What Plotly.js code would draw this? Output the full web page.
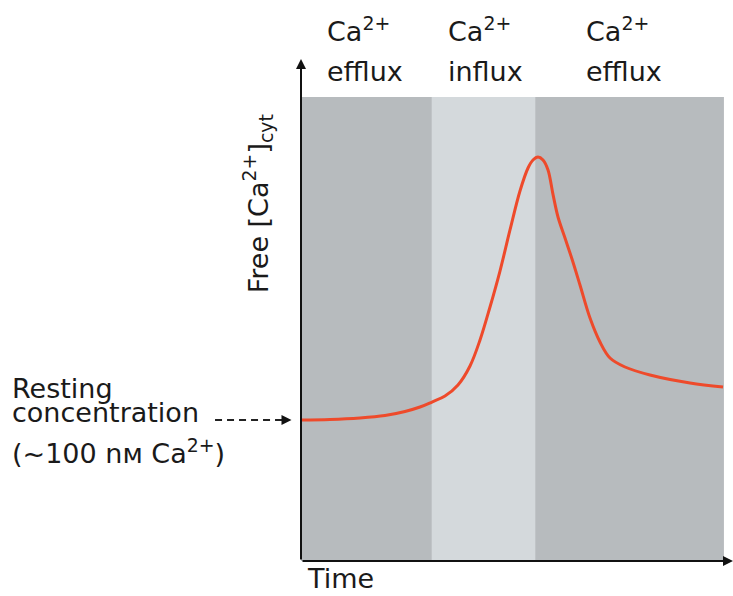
<!DOCTYPE html>
<html>
<head>
<meta charset="utf-8">
<script src="https://cdn.plot.ly/plotly-3.0.1.min.js"></script>
<style>html,body{margin:0;padding:0;background:#fff;}#chart{width:733px;height:596px;}</style>
</head>
<body>
<div id="chart"></div>
<script>
// Time (arbitrary units, 0-100) and free cytosolic Ca2+ (arbitrary units, 0-100)
const timePoints = [0, 6.71, 13.66, 19.44, 24.07, 27.55, 30.32, 33.33, 36.34, 39.12, 41.44, 43.75, 46.06, 48.38, 50.69, 52.55, 53.70, 54.86, 56.02, 57.18, 58.33, 59.49, 61.11, 62.73, 64.58, 66.90, 69.21, 71.53, 75.0, 80.79, 90.05, 97.69];
const caLevels   = [27.87, 27.96, 28.26, 28.75, 29.55, 30.43, 31.42, 32.6, 34.78, 38.54, 43.68, 50.2, 57.31, 65.42, 73.12, 77.67, 79.25, 79.84, 79.25, 77.27, 72.45, 67.98, 63.83, 59.68, 54.55, 48.02, 43.28, 40.12, 38.34, 36.76, 35.18, 34.39];
// Phase bands
const phaseStarts = [0, 30.3, 54.2];
const phaseEnds   = [30.3, 54.2, 97.9];
const phaseIons   = ["Ca<sup>2+</sup>", "Ca<sup>2+</sup>", "Ca<sup>2+</sup>"];
const phaseNames  = ["efflux", "influx", "efflux"];
const phaseColors = ["#b7bbbe", "#d4d9dc", "#b7bbbe"];
const bandTop = 91.7;
const restingLevel = caLevels[0];

const FONT = "DejaVu Sans, Verdana, sans-serif";
const txtColor = "#1a1a1a";
const FS = 27;

const shapes = phaseStarts.map((s, i) => ({
  type: "rect", xref: "x", yref: "y", layer: "below",
  x0: s, x1: phaseEnds[i], y0: 0, y1: bandTop,
  fillcolor: phaseColors[i], line: {width: 0}
}));
// dashed pointer for resting level
shapes.push({type: "line", xref: "paper", yref: "y", x0: -0.199, x1: -0.04, y0: restingLevel, y1: restingLevel,
  line: {color: "#222", width: 2, dash: "7px,5px"}});

const labelLefts = [0.0555, 0.3356, 0.655];
const annotations = [];
labelLefts.forEach((lx, i) => {
  annotations.push({xref: "paper", yref: "paper", x: lx, y: 1.0119, xanchor: "left", yanchor: "bottom",
    text: phaseIons[i], showarrow: false, font: {family: FONT, size: FS, color: txtColor}});
  annotations.push({xref: "paper", yref: "paper", x: lx, y: 0.9328, xanchor: "left", yanchor: "bottom",
    text: phaseNames[i], showarrow: false, font: {family: FONT, size: FS, color: txtColor}});
});

// axis arrows
annotations.push({xref: "x", yref: "y", axref: "x", ayref: "y", x: 100, y: 0, ax: 0, ay: 0, text: "",
  showarrow: true, arrowhead: 2, arrowsize: 1, arrowwidth: 2, arrowcolor: "#111", standoff: 0});
annotations.push({xref: "x", yref: "y", axref: "x", ayref: "y", x: 0, y: 99.2, ax: 0, ay: 0, text: "",
  showarrow: true, arrowhead: 2, arrowsize: 1, arrowwidth: 2, arrowcolor: "#111", standoff: 0});
// resting pointer arrowhead
annotations.push({xref: "paper", yref: "y", x: -0.022, y: restingLevel, ax: -10, ay: 0, text: "",
  showarrow: true, arrowhead: 2, arrowsize: 1, arrowwidth: 2, arrowcolor: "#111", standoff: 0});
// resting concentration label (three lines)
const restLines = ["Resting", "concentration", "(~100 nм Ca<sup>2+</sup>)"];
const restBottoms = [0.306, 0.2589, 0.178];
restLines.forEach((t, i) => {
  annotations.push({xref: "paper", yref: "paper", x: -0.674, y: restBottoms[i], xanchor: "left", yanchor: "bottom",
    text: t, showarrow: false, font: {family: FONT, size: FS, color: txtColor}});
});
// y title
annotations.push({xref: "paper", yref: "paper", x: -0.1, y: 0.5257, xanchor: "center", yanchor: "bottom",
  textangle: -90, text: "Free [Ca<sup>2+</sup>]<sub>cyt</sub>", showarrow: false,
  font: {family: FONT, size: FS, color: txtColor}});
// x title
annotations.push({xref: "paper", yref: "paper", x: 0.0093, y: -0.07, xanchor: "left", yanchor: "bottom",
  text: "Time", showarrow: false, font: {family: FONT, size: FS, color: txtColor}});

const trace = {
  x: timePoints, y: caLevels, type: "scatter", mode: "lines",
  line: {color: "#ee4a2b", width: 3, shape: "spline", smoothing: 1},
  hoverinfo: "skip", cliponaxis: false
};

const layout = {
  width: 733, height: 596,
  margin: {l: 301, r: 0, t: 55, b: 35},
  paper_bgcolor: "#fff", plot_bgcolor: "rgba(0,0,0,0)",
  showlegend: false,
  xaxis: {range: [0, 100], showgrid: false, zeroline: false, showline: false, showticklabels: false, ticks: ""},
  yaxis: {range: [0, 100], showgrid: false, zeroline: false, showline: false, showticklabels: false, ticks: ""},
  shapes: shapes, annotations: annotations
};
Plotly.newPlot("chart", [trace], layout, {displayModeBar: false, staticPlot: true});
</script>
</body>
</html>
